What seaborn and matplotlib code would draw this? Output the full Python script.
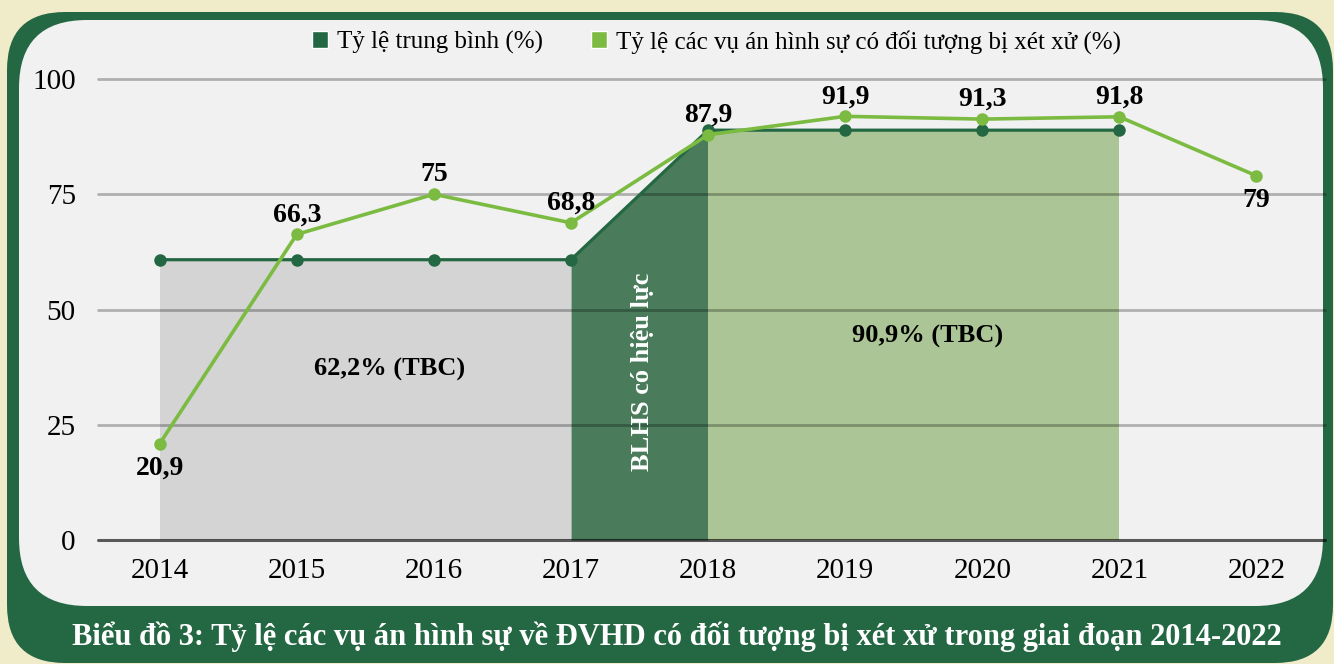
import numpy as np
import pandas as pd
import matplotlib
matplotlib.use("Agg")
import matplotlib.pyplot as plt
import seaborn as sns
from matplotlib.patches import FancyBboxPatch, Patch

# data
years = ["2014", "2015", "2016", "2017", "2018", "2019", "2020", "2021", "2022"]
rate_values = [20.9, 66.3, 75, 68.8, 87.9, 91.9, 91.3, 91.8, 79]
rate_labels = ["20,9", "66,3", "75", "68,8", "87,9", "91,9", "91,3", "91,8", "79"]
avg_years = ["2014", "2015", "2016", "2017", "2018", "2019", "2020", "2021"]
avg_values = [60.8, 60.8, 60.8, 60.8, 88.9, 88.9, 88.9, 88.9]
y_ticks = [0, 25, 50, 75, 100]

legend_avg = "Tỷ lệ trung bình (%)"
legend_rate = "Tỷ lệ các vụ án hình sự có đối tượng bị xét xử (%)"
caption = "Biểu đồ 3: Tỷ lệ các vụ án hình sự về ĐVHD có đối tượng bị xét xử trong giai đoạn 2014-2022"

DARK = "#246843"
LIGHT = "#7cbb42"
CREAM = "#f0ecca"
PANEL = "#f1f1f1"

sns.set_style("white")
plt.rcParams['font.family'] = ['Liberation Serif', 'DejaVu Serif']
plt.rcParams['text.color'] = "black"
plt.rcParams['xtick.color'] = "black"
plt.rcParams['ytick.color'] = "black"

pos = {y: i for i, y in enumerate(years)}
df_rate = pd.DataFrame({"x": [pos[y] for y in years], "v": rate_values})
df_avg = pd.DataFrame({"x": [pos[y] for y in avg_years], "v": avg_values})

fig = plt.figure(figsize=(13.34, 6.64), dpi=100)
fig.patch.set_facecolor(CREAM)

# background frame (pixel coordinates)
bg = fig.add_axes([0, 0, 1, 1])
bg.set_xlim(0, 1334)
bg.set_ylim(664, 0)
bg.axis("off")
bg.set_zorder(0)
bg.add_patch(FancyBboxPatch((7, 12), 1326, 651, boxstyle="round,pad=0,rounding_size=58",
                            facecolor=DARK, edgecolor="none"))
bg.add_patch(FancyBboxPatch((19, 20), 1304, 586, boxstyle="round,pad=0,rounding_size=68",
                            facecolor=PANEL, edgecolor="none"))

ax = fig.add_axes([98 / 1334, 124 / 664, 1227 / 1334, 461 / 664])
ax.set_zorder(1)
ax.patch.set_visible(False)

# shaded periods
ax.fill_between(df_avg["x"][0:4], df_avg["v"][0:4], color="#d4d4d4", lw=0, zorder=1)
ax.fill_between(df_avg["x"][3:5], df_avg["v"][3:5], color="#4a7c5c", lw=0, zorder=1)
ax.fill_between(df_avg["x"][4:8], df_avg["v"][4:8], color="#abc596", lw=0, zorder=1)

# grid lines drawn over the fills
for t in y_ticks[1:]:
    ax.axhline(t, color="black", alpha=0.27, lw=2.0, zorder=1.5, clip_on=False)
ax.axhline(0, color="black", alpha=0.63, lw=2.2, zorder=1.6, clip_on=False)

sns.lineplot(data=df_avg, x="x", y="v", ax=ax, color=DARK, lw=2.3, marker="o",
             markersize=9, markeredgewidth=0, zorder=3, clip_on=False)
sns.lineplot(data=df_rate, x="x", y="v", ax=ax, color=LIGHT, lw=2.6, marker="o",
             markersize=9, markeredgewidth=0, zorder=4, clip_on=False)

# value labels
below = {"2014", "2022"}
for y, v, lab in zip(years, rate_values, rate_labels):
    off = -18 if y in below else 14
    ax.annotate(lab, (pos[y], v), xytext=(0, off), textcoords="offset points",
                ha="center", va="center", fontsize=20, fontweight="bold",
                color="black", zorder=5)

ax.text(1.68, 37, "62,2% (TBC)", ha="center", va="center", fontsize=19,
        fontweight="bold", color="black")
ax.text(5.6, 44.2, "90,9% (TBC)", ha="center", va="center", fontsize=19,
        fontweight="bold", color="black")
ax.text(3.52, 36.5, "BLHS có hiệu lực", ha="center", va="center", rotation=90,
        color="white", fontsize=19, fontweight="bold")

ax.set_xlim(-0.45, 8.5)
ax.set_ylim(0, 100)
ax.set_xticks(range(len(years)))
ax.set_xticklabels(years)
ax.set_yticks(y_ticks)
ax.tick_params(axis="both", length=0, labelsize=21, labelcolor="black")
ax.tick_params(axis="y", pad=16)
ax.tick_params(axis="x", pad=13)
ax.set_xlabel("")
ax.set_ylabel("")
for s in ax.spines.values():
    s.set_visible(False)

handles = [Patch(facecolor=DARK, label=legend_avg), Patch(facecolor=LIGHT, label=legend_rate)]
fig.legend(handles=handles, loc="center", bbox_to_anchor=(0.537, 0.937), ncol=2,
           frameon=False, fontsize=18, handlelength=0.65, handleheight=0.65,
           handletextpad=0.35, columnspacing=1.9, labelcolor="black")

fig.text(0.507, 1 - 637 / 664, caption, ha="center", va="center", color="white",
         fontsize=22, fontweight="bold")

fig.savefig("out.png", dpi=100, facecolor=fig.get_facecolor())
